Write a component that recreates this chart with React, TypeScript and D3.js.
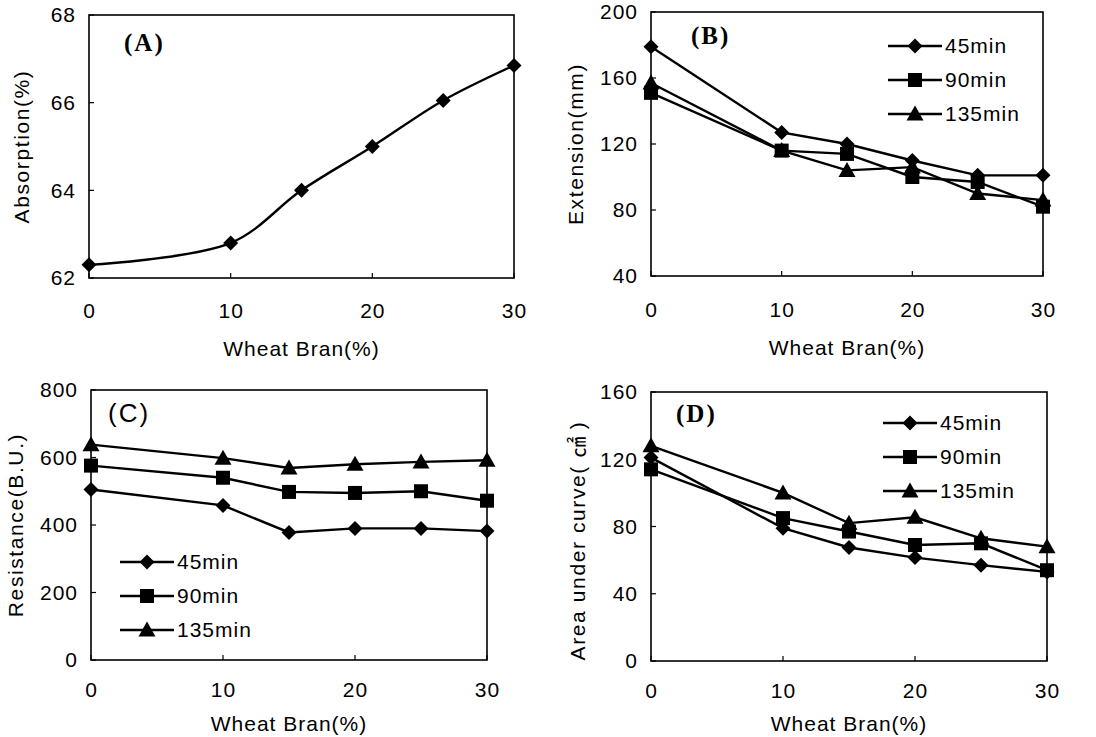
import React from "react";
import * as d3 from "d3";

// wheat bran levels (%)
const bran = [0, 10, 15, 20, 25, 30];
const xTicks = [0, 10, 20, 30];
const seriesNames = ["45min", "90min", "135min"];

// (A) absorption
const absorption = [62.3, 62.8, 64.0, 65.0, 66.05, 66.85];
const absorptionTicks = [62, 64, 66, 68];

// (B) extension
const ext45 = [179, 127, 120, 110, 101, 101];
const ext90 = [151, 116, 114, 100, 97, 82];
const ext135 = [157, 116, 104, 106, 90, 86];
const extTicks = [40, 80, 120, 160, 200];

// (C) resistance
const res45 = [505, 458, 378, 390, 390, 382];
const res90 = [576, 540, 498, 495, 500, 472];
const res135 = [638, 598, 569, 580, 587, 592];
const resTicks = [0, 200, 400, 600, 800];

// (D) area under curve
const area45 = [121, 79, 67.5, 61.5, 57, 53];
const area90 = [114, 85, 77, 69, 70, 54];
const area135 = [128, 100, 82, 85.5, 73, 68];
const areaTicks = [0, 40, 80, 120, 160];

const FONT = "'Liberation Sans', Arial, sans-serif";
const SERIF = "'Liberation Serif', 'Times New Roman', serif";
const CJK = "'Noto Sans CJK KR', 'Noto Sans CJK SC', sans-serif";
const FS = 21;
const LS = 1;

type Shape = "diamond" | "square" | "triangle";
const shapes: Shape[] = ["diamond", "square", "triangle"];

const Marker = ({ x, y, shape }: { x: number; y: number; shape: Shape }) => {
  if (shape === "diamond") {
    const r = 7.5;
    return <path d={`M${x},${y - r}L${x + r},${y}L${x},${y + r}L${x - r},${y}Z`} fill="black" />;
  }
  if (shape === "square") {
    return <rect x={x - 7} y={y - 7} width={14} height={14} fill="black" />;
  }
  return <path d={`M${x},${y - 8.5}L${x + 8.5},${y + 6.5}L${x - 8.5},${y + 6.5}Z`} fill="black" />;
};

type Panel = {
  left: number;
  right: number;
  top: number;
  bottom: number;
  yDomain: [number, number];
  yTicks: number[];
  series: number[][];
  yLabel: React.ReactNode;
  yLabelX: number;
  yLabelDy?: number;
  tag: string;
  tagX: number;
  tagY: number;
  tagSerif: boolean;
  legend?: { x: number; y: number };
  smooth?: boolean;
  tickOffset: number;
  titleOffset: number;
};

const ChartPanel = (p: Panel) => {
  const x = d3.scaleLinear().domain([0, 30]).range([p.left, p.right]);
  const y = d3.scaleLinear().domain(p.yDomain).range([p.bottom, p.top]);
  const line = d3
    .line<number>()
    .x((_, i) => x(bran[i]))
    .y((v) => y(v))
    .curve(p.smooth ? d3.curveCatmullRom.alpha(0.5) : d3.curveLinear);

  return (
    <g>
      <rect
        x={p.left}
        y={p.top}
        width={p.right - p.left}
        height={p.bottom - p.top}
        fill="none"
        stroke="black"
        strokeWidth={1.6}
      />
      {p.yTicks.map((t) => (
        <g key={t}>
          <line x1={p.left} x2={p.left + 5} y1={y(t)} y2={y(t)} stroke="black" strokeWidth={1.2} />
          <text
            x={p.left - 13}
            y={y(t)}
            dy="0.35em"
            textAnchor="end"
            fontFamily={FONT}
            fontSize={FS}
            letterSpacing={LS}
          >
            {t}
          </text>
        </g>
      ))}
      {xTicks.map((t) => (
        <g key={t}>
          <line x1={x(t)} x2={x(t)} y1={p.bottom} y2={p.bottom - 5} stroke="black" strokeWidth={1.2} />
          <text
            x={x(t) + LS / 2}
            y={p.bottom + p.tickOffset}
            textAnchor="middle"
            fontFamily={FONT}
            fontSize={FS}
            letterSpacing={LS}
          >
            {t}
          </text>
        </g>
      ))}
      <text
        x={(p.left + p.right) / 2}
        y={p.bottom + p.titleOffset}
        textAnchor="middle"
        fontFamily={FONT}
        fontSize={FS}
        letterSpacing={LS}
      >
        Wheat Bran(%)
      </text>
      <text
        transform={`translate(${p.yLabelX},${(p.top + p.bottom) / 2 + (p.yLabelDy || 0)}) rotate(-90)`}
        textAnchor="middle"
        fontFamily={FONT}
        fontSize={FS}
        letterSpacing={1.6}
        style={{ whiteSpace: "pre" }}
      >
        {p.yLabel}
      </text>
      <text
        x={p.tagX}
        y={p.tagY}
        fontFamily={p.tagSerif ? SERIF : FONT}
        fontWeight={p.tagSerif ? "bold" : "normal"}
        fontSize={p.tagSerif ? 25 : 26}
        letterSpacing={2}
      >
        {p.tag}
      </text>
      {p.series.map((s, j) => (
        <g key={j}>
          <path d={line(s) || ""} fill="none" stroke="black" strokeWidth={2.4} />
          {s.map((v, i) => (
            <Marker key={i} x={x(bran[i])} y={y(v)} shape={p.series.length === 1 ? "diamond" : shapes[j]} />
          ))}
        </g>
      ))}
      {p.legend &&
        seriesNames.map((name, j) => {
          const ly = p.legend!.y + j * 34;
          return (
            <g key={name}>
              <line x1={p.legend!.x} x2={p.legend!.x + 54} y1={ly} y2={ly} stroke="black" strokeWidth={2.4} />
              <Marker x={p.legend!.x + 27} y={ly} shape={shapes[j]} />
              <text
                x={p.legend!.x + 57}
                y={ly}
                dy="0.35em"
                fontFamily={FONT}
                fontSize={FS}
                letterSpacing={LS}
              >
                {name}
              </text>
            </g>
          );
        })}
    </g>
  );
};

export default function App() {
  return (
    <svg
      width={1096}
      height={737}
      style={{ position: "absolute", left: 0, top: 0, background: "white" }}
    >
      <ChartPanel
        left={89}
        right={514}
        top={15}
        bottom={278}
        yDomain={[62, 68]}
        yTicks={absorptionTicks}
        series={[absorption]}
        yLabel="Absorption(%)"
        yLabelX={29}
        tag="(A)"
        tagX={124}
        tagY={51}
        tagSerif={true}
        smooth={true}
        tickOffset={40}
        titleOffset={78}
      />
      <ChartPanel
        left={651}
        right={1043}
        top={12}
        bottom={276}
        yDomain={[40, 200]}
        yTicks={extTicks}
        series={[ext45, ext90, ext135]}
        yLabel="Extension(mm)"
        yLabelX={583}
        tag="(B)"
        tagX={691}
        tagY={44}
        tagSerif={true}
        legend={{ x: 888, y: 46 }}
        tickOffset={41}
        titleOffset={79}
      />
      <ChartPanel
        left={91}
        right={487}
        top={390}
        bottom={660}
        yDomain={[0, 800]}
        yTicks={resTicks}
        series={[res45, res90, res135]}
        yLabel="Resistance(B.U.)"
        yLabelX={23}
        tag="(C)"
        tagX={108}
        tagY={422}
        tagSerif={false}
        legend={{ x: 120, y: 562 }}
        tickOffset={37}
        titleOffset={71}
      />
      <ChartPanel
        left={651}
        right={1047}
        top={392}
        bottom={661}
        yDomain={[0, 160]}
        yTicks={areaTicks}
        series={[area45, area90, area135]}
        yLabel={
          <>
            {"Area under curve( "}
            <tspan fontFamily={CJK} letterSpacing={0}>
              ㎠
            </tspan>
            {" )"}
          </>
        }
        yLabelX={585}
        yLabelDy={14}
        tag="(D)"
        tagX={676}
        tagY={422}
        tagSerif={true}
        legend={{ x: 883, y: 423 }}
        tickOffset={37}
        titleOffset={70}
      />
    </svg>
  );
}
